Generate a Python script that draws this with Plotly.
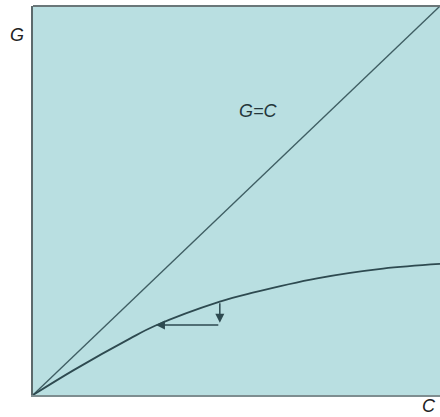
import plotly.graph_objects as go

# curve G(C)
curve_c = [0.0, 0.100, 0.238, 0.300, 0.459, 0.540, 0.698, 0.860, 1.0]
curve_g = [0.0, 0.064, 0.145, 0.178, 0.240, 0.263, 0.300, 0.325, 0.337]

# 45-degree line G=C
diag_c = [0.0, 1.0]
diag_g = [0.0, 1.0]

# adjustment step: down from the curve, then left back to the curve
step_c = [0.459, 0.459, 0.302]
step_g = [0.240, 0.186, 0.180]

BG = "#B9DFE1"
INK = "#2E4A50"

fig = go.Figure()
fig.add_trace(go.Scatter(x=diag_c, y=diag_g, mode="lines",
                         line=dict(color="#3F5E63", width=1.3),
                         hoverinfo="skip"))
fig.add_trace(go.Scatter(x=curve_c, y=curve_g, mode="lines",
                         line=dict(color=INK, width=1.8, shape="spline"),
                         hoverinfo="skip"))

# vertical arrow
fig.add_annotation(x=step_c[1], y=step_g[1], ax=step_c[0], ay=step_g[0],
                   xref="x", yref="y", axref="x", ayref="y", text="",
                   showarrow=True, arrowhead=2, arrowsize=1.2, arrowwidth=1.5,
                   arrowcolor=INK)
# horizontal arrow
fig.add_annotation(x=step_c[2], y=step_g[2], ax=step_c[1], ay=step_g[2],
                   xref="x", yref="y", axref="x", ayref="y", text="",
                   showarrow=True, arrowhead=2, arrowsize=1.2, arrowwidth=1.5,
                   arrowcolor=INK)

lab = dict(family="Liberation Sans, Arial", size=18, color="#222")
anch = dict(xref="paper", yref="paper", showarrow=False, borderpad=0,
            xanchor="center", yanchor="middle")
fig.add_annotation(x=-0.040, y=0.925, text="<i>G</i>", font=lab, **anch)
fig.add_annotation(x=0.972, y=-0.029, text="<i>C</i>", font=lab, **anch)
fig.add_annotation(x=0.555, y=0.730, text="<i>G=C</i>",
                   font=dict(family="Liberation Sans, Arial", size=18, color="#24363a"),
                   **anch)

fig.update_layout(
    width=440, height=417,
    margin=dict(l=33, r=0, t=6, b=22),
    plot_bgcolor=BG, paper_bgcolor="white",
    showlegend=False,
    xaxis=dict(range=[0, 1], showgrid=False, zeroline=False, showticklabels=False,
               ticks="", showline=True, linecolor="#7E8E90", linewidth=2,
               mirror=False),
    yaxis=dict(range=[0, 1], showgrid=False, zeroline=False, showticklabels=False,
               ticks="", showline=True, linecolor="#5B6A6C", linewidth=2),
)
# top border
fig.add_shape(type="line", xref="paper", yref="paper", x0=0, x1=1, y0=1, y1=1,
              line=dict(color="#6A7779", width=2))

fig.write_html("out.html", config={"displayModeBar": False},
               post_script="document.body.style.margin='0';")
